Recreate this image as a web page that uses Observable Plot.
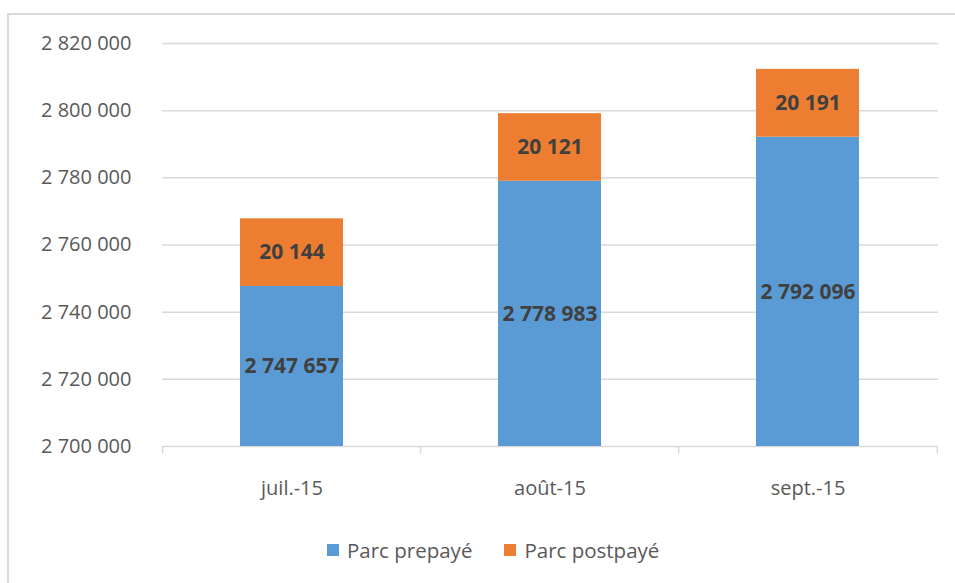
<!DOCTYPE html>
<html><head><meta charset="utf-8">
<script src="https://cdn.jsdelivr.net/npm/d3@7"></script>
<script src="https://cdn.jsdelivr.net/npm/@observablehq/plot@0.6"></script>
<style>
body{margin:0;background:#fff;overflow:hidden;font-family:"Open Sans",sans-serif;}
#wrap{position:relative;width:955px;height:583px;overflow:hidden;}
#chart{position:absolute;left:0;top:0;}
.frameL{position:absolute;left:7px;top:13px;width:2px;height:570px;background:#d9d9d9}
.frameT{position:absolute;left:7px;top:13px;width:948px;height:2px;background:#d9d9d9}
#legend{position:absolute;top:536px;left:327px;display:flex;align-items:center;font-size:20.5px;color:#595959;}
.item{display:flex;align-items:center;margin-right:32px;}
.sw{width:12px;height:12px;margin-right:8px;}
</style></head>
<body><div id="wrap"><div class="frameL"></div><div class="frameT"></div><div id="chart"></div><div id="legend"></div></div>
<script>
const months = ["juil.-15", "août-15", "sept.-15"];
const series = ["Parc prepayé", "Parc postpayé"];
const colors = ["#5B9BD5", "#ED7D31"];
const prepaye = [2747657, 2778983, 2792096];
const postpaye = [20144, 20121, 20191];
const yTicks = [2700000, 2720000, 2740000, 2760000, 2780000, 2800000, 2820000];
const yMin = 2700000, yMax = 2820000;

const fmt = d => d3.format(",")(d).replace(/,/g, " ");
const rows = months.flatMap((m, i) => [
  {month: m, series: series[0], value: prepaye[i]},
  {month: m, series: series[1], value: postpaye[i]}
]);
// labels centred in the visible part of each segment
const labels = months.flatMap((m, i) => [
  {month: m, y: (yMin + prepaye[i]) / 2, text: fmt(prepaye[i])},
  {month: m, y: prepaye[i] + postpaye[i] / 2, text: fmt(postpaye[i])}
]);

const W = 955, H = 520, mL = 162, mR = 17, mT = 43, mB = 74;
const step = (W - mL - mR) / months.length;

const plot = Plot.plot({
  width: W, height: H,
  marginLeft: mL, marginRight: mR, marginTop: mT, marginBottom: mB,
  style: {fontFamily: "Open Sans", fontSize: "20px", color: "#595959", background: "transparent"},
  x: {domain: months, paddingInner: 0.6, paddingOuter: 0.3, label: null, tickSize: 0, tickPadding: 34},
  y: {domain: [yMin, yMax], ticks: yTicks, tickFormat: fmt, tickSize: 0, tickPadding: 31, label: null},
  color: {domain: series, range: colors},
  marks: [
    Plot.ruleY(yTicks, {stroke: "#d9d9d9", strokeWidth: 1.5}),
    Plot.barY(rows, {x: "month", y: "value", fill: "series", order: series, clip: true}),
    Plot.ruleX(months, {x: d => d, dx: -step / 2, y1: yMin, y2: yMin, insetBottom: -7, stroke: "#d9d9d9", strokeWidth: 1.5}),
    Plot.ruleX(months.slice(-1), {x: d => d, dx: step / 2, y1: yMin, y2: yMin, insetBottom: -7, stroke: "#d9d9d9", strokeWidth: 1.5}),
    Plot.text(labels, {x: "month", y: "y", text: "text", fill: "#404040", fontWeight: "bold", fontSize: 21})
  ]
});
document.getElementById("chart").appendChild(plot);

const leg = document.getElementById("legend");
series.forEach((s, i) => {
  const it = document.createElement("div"); it.className = "item";
  const sw = document.createElement("div"); sw.className = "sw"; sw.style.background = colors[i];
  const t = document.createElement("span"); t.textContent = s;
  it.appendChild(sw); it.appendChild(t); leg.appendChild(it);
});
</script></body></html>
